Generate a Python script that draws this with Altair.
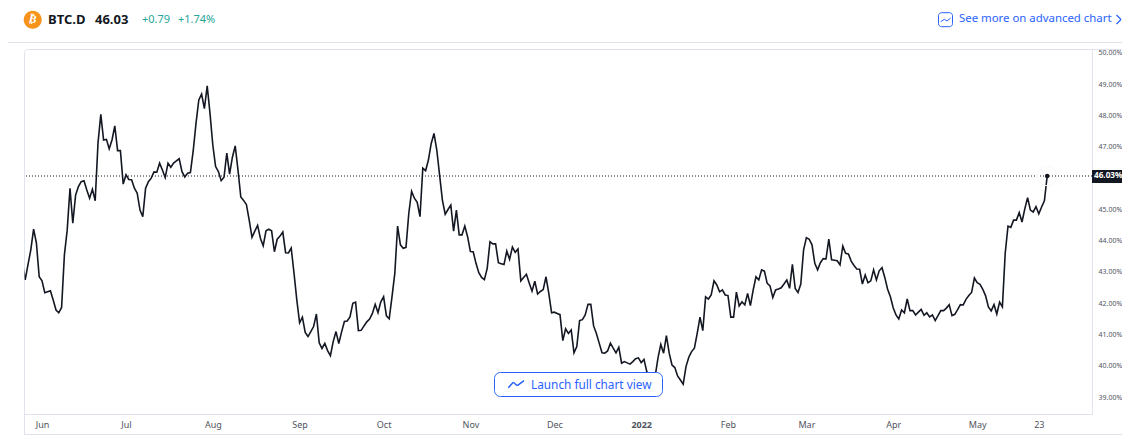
import altair as alt
import pandas as pd

START_DATE = "2021-05-25"
dominance = [
 43.25,42.71,43.20,43.67,44.33,43.89,42.81,42.68,42.30,42.33,42.36,42.07,41.75,41.66,41.83,43.51,44.30,45.64,44.52,45.42,45.69,45.85,45.88,45.58,45.32,45.61,45.24,47.08,48.00,47.18,47.20,46.90,47.18,47.63,46.84,46.84,45.77,46.07,45.92,45.91,45.64,45.48,44.94,44.73,45.64,45.85,45.96,46.16,46.15,46.44,46.22,45.98,46.44,46.31,46.44,46.51,46.58,46.17,46.00,46.12,46.14,46.83,47.71,48.46,48.65,48.18,48.91,48.03,47.02,46.33,46.17,45.88,45.99,46.76,46.09,46.63,46.99,46.22,45.36,45.25,45.12,44.62,44.07,44.27,44.45,44.04,43.80,44.28,44.33,44.28,43.61,44.01,44.11,44.24,43.58,43.57,43.73,42.93,42.07,41.34,41.52,41.03,40.90,41.06,41.22,41.62,40.70,40.52,40.68,40.45,40.29,40.74,41.06,40.68,41.05,41.38,41.40,41.53,41.96,42.00,41.09,41.10,41.24,41.37,41.46,41.64,41.93,41.66,42.01,42.17,41.56,41.47,42.17,42.92,44.43,43.83,43.72,43.75,44.84,45.54,45.32,45.19,44.73,46.28,46.20,46.54,47.07,47.39,46.86,46.06,45.26,44.81,44.96,45.10,44.27,44.94,44.15,44.15,44.43,44.09,43.62,43.61,43.24,42.94,42.79,42.72,43.08,43.93,43.86,43.86,43.26,43.23,43.20,43.63,43.37,43.76,43.59,43.70,42.68,42.79,42.89,42.61,42.35,42.67,42.26,42.34,42.40,42.81,42.28,41.66,41.68,41.64,41.60,40.77,41.15,41.00,41.11,40.38,40.58,41.41,41.44,41.59,41.93,41.93,41.24,41.00,40.69,40.38,40.37,40.44,40.69,40.53,40.38,40.56,40.05,40.10,40.06,40.02,40.10,40.19,40.22,40.07,40.17,39.78,39.58,39.38,39.64,40.22,40.65,40.37,40.93,40.37,39.99,39.91,39.64,39.51,39.38,39.94,40.24,40.42,40.53,41.00,41.52,41.09,42.17,42.10,42.23,42.68,42.55,42.33,42.39,42.23,42.21,41.52,41.52,42.32,41.88,42.01,41.91,42.28,41.89,42.39,42.81,42.71,43.03,42.99,42.60,42.52,42.15,42.39,42.42,42.46,42.58,42.71,42.44,43.21,42.44,42.31,42.58,43.67,44.06,44.01,43.83,43.24,43.03,43.26,43.39,43.38,44.01,43.35,43.34,43.32,43.19,43.79,43.56,43.54,43.31,43.17,43.06,43.05,42.58,42.87,42.62,42.68,43.03,42.71,43.00,43.10,42.79,42.41,42.17,41.82,41.59,41.46,41.75,41.66,42.10,41.73,41.73,41.59,41.68,41.77,41.58,41.66,41.53,41.59,41.41,41.57,41.73,41.73,41.81,41.92,41.57,41.61,41.76,41.92,41.91,42.09,42.21,42.31,42.77,42.62,42.57,42.41,42.20,41.85,41.72,41.92,41.62,42.00,41.85,43.56,44.43,44.39,44.62,44.62,44.86,44.56,44.98,45.34,44.94,44.88,45.05,44.82,45.04,45.24,46.03,
]
y_ticks = [39, 40, 41, 42, 43, 44, 45, 47, 48, 49, 50]
x_ticks = ["2021-06-01","2021-07-01","2021-08-01","2021-09-01","2021-10-01","2021-11-01","2021-12-01",
           "2022-01-01","2022-02-01","2022-03-01","2022-04-01","2022-05-01","2022-05-23"]

dates = pd.date_range(START_DATE, periods=len(dominance), freq="D").strftime("%Y-%m-%d").tolist()
series = pd.DataFrame({"date": dates, "v": dominance})
last = series.tail(1)

PAD_L, PAD_T = 16.5, 41
PLOT_W, PLOT_H = 1067.5, 365
BLUE = "#2962ff"
INK = "#131722"
LINE = "#e0e3eb"
FONT = "Noto Sans"
one = pd.DataFrame({"a": [0]})

px = lambda x: x - 8 - PAD_L
py = lambda y: y - 8 - PAD_T

def seg(x1, y1, x2, y2, color=LINE, w=1.0):
    return alt.Chart(one).mark_rule(color=color, strokeWidth=w).encode(
        x=alt.value(px(x1)), x2=alt.value(px(x2)), y=alt.value(py(y1)), y2=alt.value(py(y2)))

def box(x1, y1, x2, y2, **kw):
    return alt.Chart(one).mark_rect(**kw).encode(
        x=alt.value(px(x1)), x2=alt.value(px(x2)), y=alt.value(py(y1)), y2=alt.value(py(y2)))

def label(s, x, y, size, color, weight=400, align="left", font=FONT, angle=0):
    return alt.Chart(pd.DataFrame({"t": [s]})).mark_text(
        fontSize=size, color=color, fontWeight=weight, align=align, baseline="middle", font=font, angle=angle
    ).encode(text="t:N", x=alt.value(px(x)), y=alt.value(py(y)))

x_enc = alt.X("date:T", title=None,
    scale=alt.Scale(type="utc", domain=[pd.Timestamp("2021-05-25T18:00:00").value // 10**6,
                                         pd.Timestamp("2022-06-11T00:00:00").value // 10**6]),
    axis=alt.Axis(values=x_ticks, grid=False, ticks=False, domainColor=LINE, labelColor="#50535e",
        labelFont=FONT, labelFontSize=9, labelPadding=6, labelAlign="center", labelOverlap=False,
        labelFontWeight={"condition": {"test": "utcmonth(datum.value)==0", "value": 700}, "value": 400},
        labelExpr="utcdate(datum.value)==23 ? '23' : (utcmonth(datum.value)==0 ? utcFormat(datum.value,'%Y') : utcFormat(datum.value,'%b'))"))
y_enc = alt.Y("v:Q", title=None,
    scale=alt.Scale(domain=[46.03 - 238 / 31.3, 46.03 + 127 / 31.3], nice=False, zero=False),
    axis=alt.Axis(orient="right", values=y_ticks, grid=False, ticks=False, domainColor=LINE,
        labelColor="#50535e", labelFont=FONT, labelFontSize=7, labelPadding=6, labelOffset=1, labelOverlap=False,
        labelFlush=False, labelExpr="format(datum.value,'.2f')+'%'"))

line = alt.Chart(series).mark_line(color=INK, strokeWidth=1.6, clip=True, interpolate="linear").encode(x=x_enc, y=y_enc)
price_rule = alt.Chart(last).mark_rule(color=INK, strokeWidth=1, strokeDash=[1, 2]).encode(y=y_enc)
halo = alt.Chart(last).mark_point(filled=False, size=380, color="#f7f8fb", strokeWidth=1, opacity=1).encode(x=x_enc, y=y_enc)
dot = alt.Chart(last).mark_point(filled=True, size=20, color=INK, opacity=1).encode(x=x_enc, y=y_enc)
price_box = box(1092, 170, 1135, 183, color=INK)
price_text = alt.Chart(last.assign(t="46.03%")).mark_text(color="white", fontSize=8.2, fontWeight=700, font=FONT,
    align="left", baseline="middle").encode(text="t:N", x=alt.value(px(1094)), y=y_enc)

layers = [
    box(24.5, 49.5, 1160, 470, filled=False, stroke=LINE, strokeWidth=1, cornerRadius=3),
    seg(0, 42.5, 1140, 42.5),
    seg(24.5, 434.5, 1140, 434.5),
    line, price_rule, halo, dot, price_box, price_text,
    # header
    box(23.7, 10.7, 41.7, 28.7, color="#f7931a", cornerRadius=9),
    label("\u20bf", 32.7, 19.5, 11, "white", 700, "center", "DejaVu Sans", 14),
    label("BTC.D", 48, 19.5, 13, INK, 700),
    label("46.03", 95, 19.5, 13, INK, 700),
    label("+0.79", 142, 19.5, 11, "#26a69a"),
    label("+1.74%", 178, 19.5, 11, "#26a69a"),
    box(938.5, 12.7, 952.5, 26.7, filled=False, stroke=BLUE, strokeWidth=1, cornerRadius=3),
    seg(940.7, 21.7, 944.3, 19.3, BLUE), seg(944.3, 19.3, 947, 21, BLUE), seg(947, 21, 950.7, 18, BLUE),
    label("See more on advanced chart", 959, 19, 11.4, BLUE),
    seg(1116.5, 15, 1121, 19.5, BLUE, 1.2), seg(1121, 19.5, 1116.5, 24, BLUE, 1.2),
    # button
    box(494.5, 372.5, 662.5, 396.5, fill="white", stroke=BLUE, strokeWidth=1, cornerRadius=6),
    seg(508.3, 387.7, 513.3, 382.3, BLUE, 1.5), seg(513.3, 382.3, 517.3, 385.7, BLUE, 1.5), seg(517.3, 385.7, 524, 380.7, BLUE, 1.5),
    label("Launch full chart view", 531, 384.5, 11.8, BLUE),
]

chart = alt.layer(*layers).properties(
    width=PLOT_W, height=PLOT_H,
    padding={"left": PAD_L, "top": PAD_T, "right": 30, "bottom": 21},
    autosize=alt.AutoSizeParams(type="none"),
).configure_view(stroke=None).configure_axis(labelOverlap=False)

chart.save("out.html", embed_options={"renderer": "svg", "actions": False})
